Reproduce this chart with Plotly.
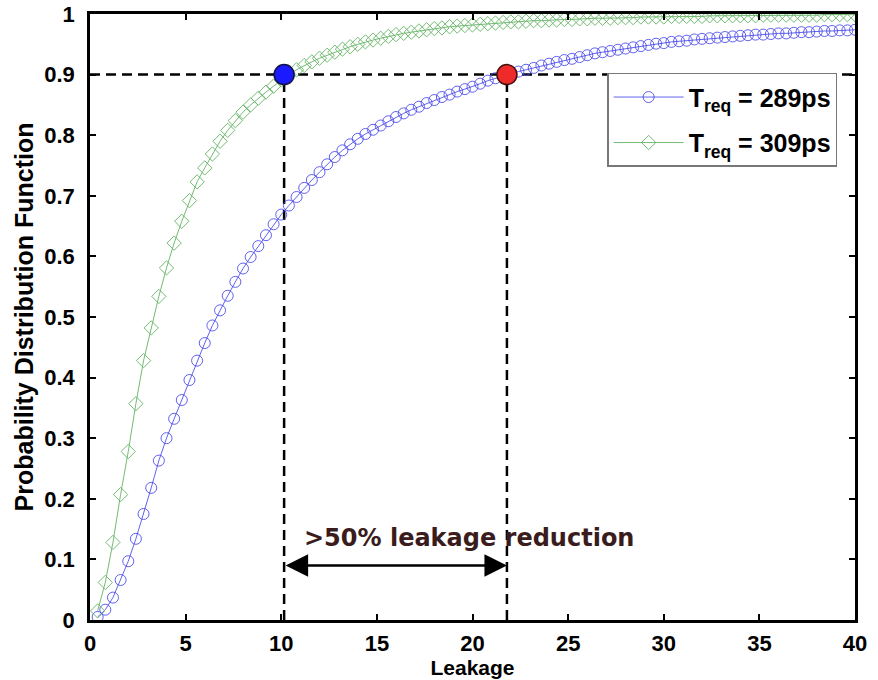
import plotly.graph_objects as go

# ---------------- data ----------------
leakage = [
    0.4, 0.8, 1.2, 1.6, 2.0, 2.4, 2.8, 3.2, 3.6, 4.0,
    4.4, 4.8, 5.2, 5.6, 6.0, 6.4, 6.8, 7.2, 7.6, 8.0,
    8.4, 8.8, 9.2, 9.6, 10.0, 10.4, 10.8, 11.2, 11.6, 12.0,
    12.4, 12.8, 13.2, 13.6, 14.0, 14.4, 14.8, 15.2, 15.6, 16.0,
    16.4, 16.8, 17.2, 17.6, 18.0, 18.4, 18.8, 19.2, 19.6, 20.0,
    20.4, 20.8, 21.2, 21.6, 22.0, 22.4, 22.8, 23.2, 23.6, 24.0,
    24.4, 24.8, 25.2, 25.6, 26.0, 26.4, 26.8, 27.2, 27.6, 28.0,
    28.4, 28.8, 29.2, 29.6, 30.0, 30.4, 30.8, 31.2, 31.6, 32.0,
    32.4, 32.8, 33.2, 33.6, 34.0, 34.4, 34.8, 35.2, 35.6, 36.0,
    36.4, 36.8, 37.2, 37.6, 38.0, 38.4, 38.8, 39.2, 39.6, 40.0,
]

cdf_289ps = [
    0.005, 0.017, 0.037, 0.066, 0.097, 0.134, 0.175, 0.218, 0.263, 0.300,
    0.332, 0.363, 0.396, 0.428, 0.457, 0.486, 0.511, 0.535, 0.558, 0.580,
    0.599, 0.617, 0.635, 0.653, 0.669, 0.684, 0.698, 0.713, 0.726, 0.739,
    0.752, 0.764, 0.775, 0.785, 0.794, 0.802, 0.809, 0.816, 0.823, 0.830,
    0.836, 0.842, 0.847, 0.853, 0.858, 0.863, 0.867, 0.872, 0.876, 0.880,
    0.885, 0.890, 0.894, 0.898, 0.901, 0.905, 0.908, 0.911, 0.915, 0.918,
    0.921, 0.924, 0.926, 0.929, 0.932, 0.935, 0.937, 0.939, 0.941, 0.943,
    0.945, 0.947, 0.949, 0.951, 0.952, 0.954, 0.955, 0.956, 0.958, 0.959,
    0.960, 0.961, 0.962, 0.963, 0.964, 0.965, 0.966, 0.966, 0.967, 0.968,
    0.968, 0.969, 0.970, 0.970, 0.971, 0.972, 0.972, 0.973, 0.973, 0.974,
]

cdf_309ps = [
    0.015, 0.062, 0.128, 0.207, 0.278, 0.357, 0.428, 0.482, 0.534, 0.581,
    0.622, 0.658, 0.692, 0.723, 0.746, 0.769, 0.790, 0.808, 0.824, 0.838,
    0.850, 0.861, 0.871, 0.881, 0.891, 0.900, 0.908, 0.915, 0.921, 0.927,
    0.932, 0.937, 0.942, 0.946, 0.950, 0.954, 0.957, 0.960, 0.963, 0.966,
    0.968, 0.970, 0.972, 0.974, 0.976, 0.977, 0.979, 0.980, 0.981, 0.982,
    0.983, 0.984, 0.985, 0.986, 0.987, 0.987, 0.988, 0.989, 0.989, 0.990,
    0.990, 0.991, 0.991, 0.992, 0.992, 0.993, 0.993, 0.993, 0.994, 0.994,
    0.994, 0.995, 0.995, 0.995, 0.995, 0.996, 0.996, 0.996, 0.996, 0.996,
    0.997, 0.997, 0.997, 0.997, 0.997, 0.997, 0.997, 0.998, 0.998, 0.998,
    0.998, 0.998, 0.998, 0.998, 0.998, 0.999, 0.999, 0.999, 0.999, 0.999,
]

series_names = ["T<sub>req</sub> = 289ps", "T<sub>req</sub> = 309ps"]
target_prob = 0.9
cross_309 = 10.15   # leakage where T=309ps reaches 0.9
cross_289 = 21.8    # leakage where T=289ps reaches 0.9
arrow_y = 0.09
label_x = 19.8
label_y = 0.135
label_text = ">50% leakage reduction"
x_range = [0, 40]
y_range = [0, 1]
x_ticks = [0, 5, 10, 15, 20, 25, 30, 35, 40]
y_ticks = [0, 0.1, 0.2, 0.3, 0.4, 0.5, 0.6, 0.7, 0.8, 0.9, 1]
y_tick_text = ["0", "0.1", "0.2", "0.3", "0.4", "0.5", "0.6", "0.7", "0.8", "0.9", "1"]

assert len(leakage) == len(cdf_289ps) == len(cdf_309ps)

FONT = "Liberation Sans"
BLUE = "rgba(70,70,235,0.85)"
GREEN = "rgba(100,180,100,0.9)"

fig = go.Figure()

dash_style = dict(color="black", width=2.5, dash="10px,6px")
fig.add_trace(go.Scatter(x=x_range, y=[target_prob, target_prob], mode="lines",
                         line=dash_style, showlegend=False, hoverinfo="skip"))
for cx in (cross_309, cross_289):
    fig.add_trace(go.Scatter(x=[cx, cx], y=[0, target_prob], mode="lines",
                             line=dash_style, showlegend=False, hoverinfo="skip"))

fig.add_trace(go.Scatter(
    x=leakage, y=cdf_289ps, mode="lines+markers", name=series_names[0],
    legendgroup="a",
    line=dict(color=BLUE, width=1),
    marker=dict(symbol="circle-open", size=11, color=BLUE, line=dict(width=1)),
))
fig.add_trace(go.Scatter(
    x=leakage, y=cdf_309ps, mode="lines+markers", name=series_names[1],
    legendgroup="b",
    line=dict(color=GREEN, width=1),
    marker=dict(symbol="diamond-open", size=11, color=GREEN, line=dict(width=1)),
))

fig.add_trace(go.Scatter(x=[cross_309], y=[target_prob], mode="markers", showlegend=False,
                         marker=dict(size=20, color="#1a1aff", line=dict(color="#111144", width=1.5))))
fig.add_trace(go.Scatter(x=[cross_289], y=[target_prob], mode="markers", showlegend=False,
                         marker=dict(size=20, color="#ee2a2a", line=dict(color="#441111", width=1.5))))

fig.add_annotation(x=cross_289, y=arrow_y, ax=cross_309, ay=arrow_y,
                   xref="x", yref="y", axref="x", ayref="y",
                   text="", showarrow=True, arrowhead=2, startarrowhead=2,
                   arrowside="end+start", arrowsize=1.8, startarrowsize=1.8,
                   arrowwidth=2.5, arrowcolor="black", standoff=0, startstandoff=0)
fig.add_annotation(x=label_x, y=label_y, xref="x", yref="y",
                   text=label_text, showarrow=False,
                   font=dict(family="DejaVu Sans", size=24, color="#3a1c1c", weight="bold"))

axis_common = dict(showgrid=False, zeroline=False, showline=True, linecolor="black",
                   linewidth=2.5, mirror="ticks", ticks="inside", ticklen=6,
                   tickwidth=2, tickcolor="black", automargin=False,
                   tickfont=dict(family=FONT, size=22, color="black", weight="bold"))

fig.update_xaxes(range=x_range, tickvals=x_ticks, title_text="Leakage",
                 title_standoff=0, ticklabelstandoff=2,
                 title_font=dict(family=FONT, size=21, color="black", weight="bold"),
                 **axis_common)
fig.update_yaxes(range=y_range, tickvals=y_ticks, ticktext=y_tick_text,
                 title_text="Probability Distribution Function", title_standoff=4,
                 ticklabelstandoff=8,
                 title_font=dict(family=FONT, size=25, color="black", weight="bold"),
                 **axis_common)

fig.update_layout(
    width=878, height=680,
    margin=dict(l=90, r=23, t=14, b=60),
    plot_bgcolor="white", paper_bgcolor="white",
    legend=dict(x=0.676, y=0.903, xanchor="left", yanchor="top",
                bgcolor="white", bordercolor="#777777", borderwidth=1.5,
                font=dict(family=FONT, size=25, color="black", weight="bold"),
                itemwidth=70, tracegroupgap=10),
)

fig.write_html("out.html")
